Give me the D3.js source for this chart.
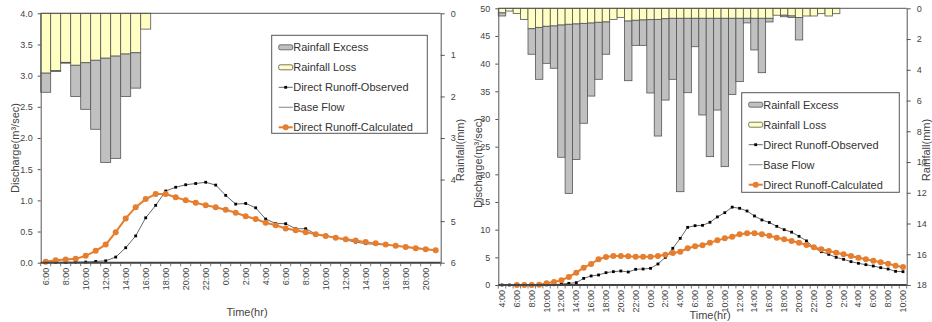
<!DOCTYPE html>
<html>
<head>
<meta charset="utf-8">
<script src="https://cdn.jsdelivr.net/npm/d3@7"></script>
<style>
    body { margin: 0; background: #fff; }
    svg { display: block; font-family: "Liberation Sans", Arial, sans-serif; }
</style>
</head>
<body>
<svg id="gfx" width="932" height="322"></svg>
<script>
// ---- left event (hourly, 6:00 day 1 .. 21:00 day 2) ----
const leftTimes = ["6:00","7:00","8:00","9:00","10:00","11:00","12:00","13:00","14:00","15:00","16:00","17:00","18:00","19:00","20:00","21:00","22:00","23:00",
    "0:00","1:00","2:00","3:00","4:00","5:00","6:00","7:00","8:00","9:00","10:00","11:00","12:00","13:00","14:00","15:00","16:00","17:00","18:00","19:00","20:00","21:00"];
const leftObserved = [0.005,0.005,0.005,0.01,0.01,0.02,0.03,0.09,0.24,0.43,0.72,0.92,1.15,1.21,1.25,1.27,1.29,1.245,1.08,0.94,
    0.95,0.88,0.70,0.63,0.625,0.545,0.545,0.46,0.43,0.40,0.365,0.33,0.305,0.295,0.285,0.27,0.255,0.24,0.22,0.20];
const leftCalculated = [0.016,0.04,0.05,0.065,0.11,0.19,0.29,0.49,0.71,0.89,1.02,1.10,1.10,1.05,1.00,0.96,0.92,0.89,0.85,0.80,
    0.745,0.70,0.64,0.60,0.55,0.52,0.49,0.455,0.43,0.40,0.375,0.355,0.33,0.31,0.29,0.27,0.25,0.23,0.215,0.20];
const leftBase = leftTimes.map(() => 0);
const leftLoss = [1.44,1.38,1.18,1.25,1.19,1.13,1.08,1.03,0.98,0.95,0.38];
const leftExcess = [0.46,0.02,0.02,0.75,1.12,1.66,2.51,2.46,1.02,0.85,0];

// ---- right event (hourly, 4:00 day 1 .. 10:00 day 3) ----
const rightTimes = ["4:00","5:00","6:00","7:00","8:00","9:00","10:00","11:00","12:00","13:00","14:00","15:00","16:00","17:00","18:00","19:00","20:00","21:00","22:00","23:00",
    "0:00","1:00","2:00","3:00","4:00","5:00","6:00","7:00","8:00","9:00","10:00","11:00","12:00","13:00","14:00","15:00","16:00","17:00","18:00","19:00","20:00","21:00","22:00","23:00",
    "0:00","1:00","2:00","3:00","4:00","5:00","6:00","7:00","8:00","9:00","10:00"];
const rightObserved = [0,0,0,0,0,0,0.02,0.05,0.18,0.30,
    0.42,1.2,1.63,1.81,2.23,2.41,2.53,2.35,2.83,2.89,
    3.01,3.80,5.0,6.63,8.43,10.42,10.72,10.78,11.33,12.3,
    13.07,14.07,13.86,13.37,12.47,11.75,11.3,10.6,10.0,9.55,
    8.8,7.97,6.75,6.02,5.54,5.0,4.64,4.22,3.92,3.67,
    3.43,3.13,2.89,2.47,2.41];
const rightCalculated = [null,null,0,0,0,0.06,0.3,0.54,0.84,1.45,
    2.23,3.13,3.8,4.64,5.06,5.24,5.24,5.18,5.12,5.12,
    5.12,5.24,5.48,5.78,6.02,6.63,6.99,7.2,7.65,8.07,
    8.43,8.73,9.16,9.34,9.34,9.16,8.92,8.55,8.25,7.95,
    7.65,7.23,6.81,6.45,6.15,5.84,5.54,5.24,4.94,4.64,
    4.4,4.1,3.86,3.49,3.25];
const rightBase = rightTimes.map(() => 0);
const rightLoss = [0.3,0.18,0.33,0.72,1.33,1.24,1.17,1.15,1.09,1.04,
    1.02,0.98,0.96,0.91,0.89,0.72,0.59,0.83,0.78,0.76,
    0.74,0.72,0.68,0.65,0.65,0.65,0.65,0.65,0.65,0.65,
    0.65,0.65,0.65,0.65,0.65,0.65,0.65,0.45,0.45,0.5,
    0.6,0.5,0.5,0.35,0.5,0.35];
const rightExcess = [0.2,0,0,0,1.66,3.38,2.41,2.75,8.60,11.0,
    8.81,6.50,4.75,3.71,2.10,0,0,3.88,1.63,1.65,
    4.77,7.59,5.29,3.97,11.28,4.84,1.85,6.29,9.0,5.97,
    9.65,4.95,4.12,0.3,2.06,3.54,0.24,0,0.1,0.1,
    1.46,0,0,0,0,0];

const legendItems = ["Rainfall Excess", "Rainfall Loss", "Direct Runoff-Observed", "Base Flow", "Direct Runoff-Calculated"];

const COL = {
    axis: "#555",
    text: "#444",
    excess: "#c0c0c0",
    loss: "#ffffc4",
    observed: "#555",
    base: "#999",
    calc: "#e57e2e"
};

const svg = d3.select("#gfx");

function drawPanel(p) {
    const g = svg.append("g");

    const x = d3.scaleBand()
        .domain(p.times.map((d, i) => i))
        .range([p.x0, p.x1])
        .paddingInner(0).paddingOuter(0);
    const bw = x.bandwidth();
    const cx = i => x(i) + bw / 2;

    const yQ = d3.scaleLinear().domain([0, p.qMax]).range([p.y1, p.y0]);
    const yR = d3.scaleLinear().domain([0, p.rMax]).range([p.y0, p.y1]);

    // rainfall bars hanging from the top
    const bars = g.append("g");
    bars.selectAll("rect.loss")
        .data(p.loss)
        .join("rect")
        .attr("class", "loss")
        .attr("x", (d, i) => x(i))
        .attr("y", yR(0))
        .attr("width", bw)
        .attr("height", d => yR(d) - yR(0))
        .attr("fill", COL.loss)
        .attr("stroke", COL.axis)
        .attr("stroke-width", 0.8);

    bars.selectAll("rect.excess")
        .data(p.excess.map((d, i) => ({ i: i, top: p.loss[i], v: d })).filter(d => d.v > 0))
        .join("rect")
        .attr("class", "excess")
        .attr("x", d => x(d.i))
        .attr("y", d => yR(d.top))
        .attr("width", bw)
        .attr("height", d => yR(d.top + d.v) - yR(d.top))
        .attr("fill", COL.excess)
        .attr("stroke", COL.axis)
        .attr("stroke-width", 0.8);

    // base flow
    g.append("path")
        .attr("d", d3.line().x((d, i) => cx(i)).y(d => yQ(d))(p.base))
        .attr("fill", "none")
        .attr("stroke", COL.base)
        .attr("stroke-width", 1);

    // observed
    const obs = p.observed.map((v, i) => [i, v]).filter(d => d[1] != null);
    g.append("path")
        .attr("d", d3.line().x(d => cx(d[0])).y(d => yQ(d[1]))(obs))
        .attr("fill", "none")
        .attr("stroke", COL.observed)
        .attr("stroke-width", 0.9);
    g.append("g").selectAll("rect")
        .data(obs)
        .join("rect")
        .attr("x", d => cx(d[0]) - 1.4)
        .attr("y", d => yQ(d[1]) - 1.4)
        .attr("width", 2.8)
        .attr("height", 2.8)
        .attr("fill", "#000");

    // calculated
    const calc = p.calculated.map((v, i) => [i, v]).filter(d => d[1] != null);
    g.append("path")
        .attr("d", d3.line().x(d => cx(d[0])).y(d => yQ(d[1]))(calc))
        .attr("fill", "none")
        .attr("stroke", COL.calc)
        .attr("stroke-width", 2);
    g.append("g").selectAll("circle")
        .data(calc)
        .join("circle")
        .attr("cx", d => cx(d[0]))
        .attr("cy", d => yQ(d[1]))
        .attr("r", 3)
        .attr("fill", COL.calc);

    // frame
    g.append("line")
        .attr("x1", p.x0).attr("x2", p.x1).attr("y1", p.y0).attr("y2", p.y0)
        .attr("stroke", COL.axis).attr("stroke-width", 1);

    // left axis
    const axL = g.append("g")
        .attr("transform", "translate(" + p.x0 + ",0)")
        .call(d3.axisLeft(yQ).tickValues(d3.range(0, p.qMax + p.qStep / 2, p.qStep))
            .tickFormat(d3.format(p.qFmt)).tickSizeOuter(0).tickSizeInner(3).tickPadding(5));
    // right axis
    const axR = g.append("g")
        .attr("transform", "translate(" + p.x1 + ",0)")
        .call(d3.axisRight(yR).tickValues(d3.range(0, p.rMax + p.rStep / 2, p.rStep))
            .tickFormat(d3.format("d")).tickSizeOuter(0).tickSizeInner(4).tickPadding(6));
    // bottom axis: ticks between categories, labels every 2 hours
    const axB = g.append("g")
        .attr("transform", "translate(0," + p.y1 + ")");
    axB.append("line")
        .attr("x1", p.x0).attr("x2", p.x1)
        .attr("stroke", "#444").attr("stroke-width", 2);
    axB.selectAll("line.tk")
        .data(d3.range(p.times.length + 1))
        .join("line")
        .attr("class", "tk")
        .attr("x1", i => p.x0 + i * bw).attr("x2", i => p.x0 + i * bw)
        .attr("y1", 0).attr("y2", 3.5)
        .attr("stroke", COL.axis).attr("stroke-width", 0.8);
    axB.selectAll("text")
        .data(p.times.map((t, i) => [i, t]).filter(d => d[0] % 2 === 0))
        .join("text")
        .attr("transform", d => "translate(" + (cx(d[0]) + 3) + ",5) rotate(-90)")
        .attr("text-anchor", "end")
        .attr("font-size", 9)
        .attr("fill", COL.text)
        .text(d => d[1]);

    [axL, axR].forEach(a => {
        a.select(".domain").attr("stroke", COL.axis);
        a.selectAll(".tick line").attr("stroke", COL.axis);
        a.selectAll(".tick text").attr("fill", COL.text).attr("font-size", 9)
            .attr("font-family", "Liberation Sans, Arial, sans-serif");
    });

    // titles
    g.append("text")
        .attr("transform", "translate(" + p.qTitle[0] + "," + p.qTitle[1] + ") rotate(-90)")
        .attr("text-anchor", "middle").attr("font-size", 11).attr("fill", COL.text)
        .text("Discharge(m³/sec)");
    g.append("text")
        .attr("transform", "translate(" + p.rTitle[0] + "," + p.rTitle[1] + ") rotate(-90)")
        .attr("text-anchor", "middle").attr("font-size", 11).attr("fill", COL.text)
        .text("Rainfall(mm)");
    g.append("text")
        .attr("x", p.tTitle[0]).attr("y", p.tTitle[1])
        .attr("text-anchor", "middle").attr("font-size", 11).attr("fill", COL.text)
        .text("Time(hr)");

    // legend
    const lg = g.append("g").attr("transform", "translate(" + p.legend[0] + "," + p.legend[1] + ")");
    lg.append("rect")
        .attr("width", p.legend[2]).attr("height", p.legend[3])
        .attr("fill", "#fff").attr("stroke", COL.axis).attr("stroke-width", 1);
    legendItems.forEach((name, k) => {
        const yy = 12 + k * 20;
        const it = lg.append("g").attr("transform", "translate(7," + yy + ")");
        if (k < 2) {
            it.append("rect")
                .attr("x", 0).attr("y", -2.5).attr("width", 14).attr("height", 5).attr("rx", 1.5)
                .attr("fill", k === 0 ? COL.excess : COL.loss)
                .attr("stroke", COL.axis).attr("stroke-width", 0.8);
        } else if (k === 2) {
            it.append("line").attr("x1", 0).attr("x2", 14).attr("stroke", COL.observed).attr("stroke-width", 0.9);
            it.append("rect").attr("x", 5.6).attr("y", -1.4).attr("width", 2.8).attr("height", 2.8).attr("fill", "#000");
        } else if (k === 3) {
            it.append("line").attr("x1", 0).attr("x2", 14).attr("stroke", COL.base).attr("stroke-width", 1.2);
        } else {
            it.append("line").attr("x1", 0).attr("x2", 14).attr("stroke", COL.calc).attr("stroke-width", 2);
            it.append("circle").attr("cx", 7).attr("r", 3).attr("fill", COL.calc);
        }
        it.append("text")
            .attr("x", 14.5).attr("y", 4)
            .attr("font-size", 11).attr("fill", "#333")
            .text(name);
    });
}

drawPanel({
    times: leftTimes, observed: leftObserved, calculated: leftCalculated, base: leftBase,
    loss: leftLoss, excess: leftExcess,
    x0: 40.7, x1: 440.7, y0: 13.3, y1: 262.7,
    qMax: 4, qStep: 0.5, qFmt: ".1f", rMax: 6, rStep: 1,
    qTitle: [18.5, 148], rTitle: [464, 150], tTitle: [247, 316],
    legend: [271.7, 35.3, 155.6, 98]
});

drawPanel({
    times: rightTimes, observed: rightObserved, calculated: rightCalculated, base: rightBase,
    loss: rightLoss, excess: rightExcess,
    x0: 498.3, x1: 906.7, y0: 8.3, y1: 285,
    qMax: 50, qStep: 5, qFmt: "d", rMax: 18, rStep: 2,
    qTitle: [482, 163], rTitle: [930, 150], tTitle: [710, 319],
    legend: [741.7, 92.7, 157.6, 99.6]
});
</script>
</body>
</html>
